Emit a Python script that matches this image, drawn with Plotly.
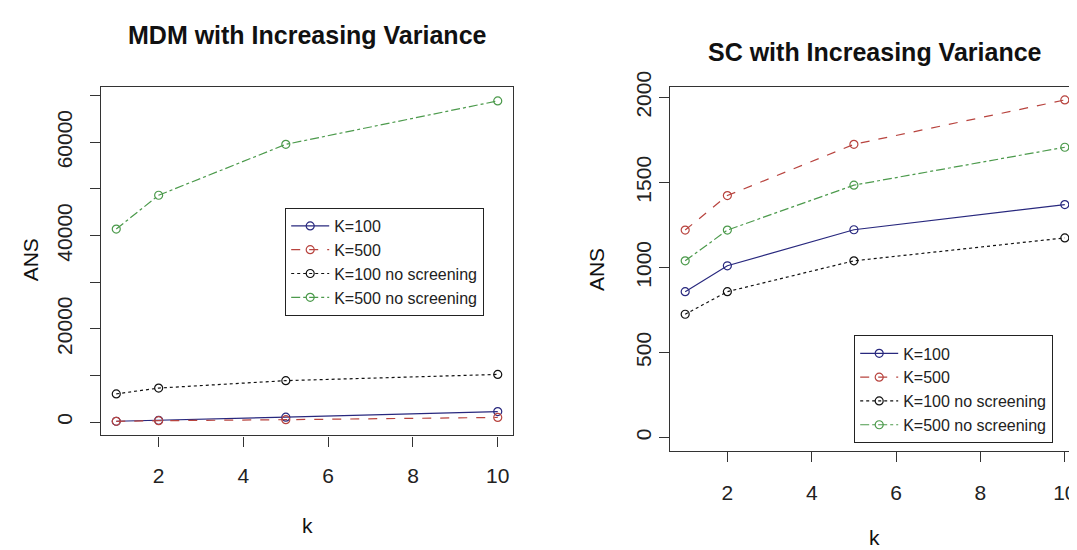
import plotly.graph_objects as go

# ---- data ----
k_vals = [1, 2, 5, 10]
series_names = ["K=100", "K=500", "K=100 no screening", "K=500 no screening"]

mdm_k100 = [180, 380, 1050, 2250]
mdm_k500 = [160, 300, 520, 1000]
mdm_k100_ns = [6050, 7300, 8890, 10220]
mdm_k500_ns = [41400, 48650, 59560, 68880]

sc_k100 = [858, 1010, 1222, 1370]
sc_k500 = [1220, 1423, 1724, 1985]
sc_k100_ns = [725, 858, 1039, 1174]
sc_k500_ns = [1039, 1220, 1484, 1707]

x_ticks = [2, 4, 6, 8, 10]
mdm_y_ticks = [0, 10000, 20000, 30000, 40000, 50000, 60000, 70000]
mdm_y_ticktext = ["0", "", "20000", "", "40000", "", "60000", ""]
sc_y_ticks = [0, 500, 1000, 1500, 2000]
sc_y_ticktext = ["0", "500", "1000", "1500", "2000"]

titles = ["MDM with Increasing Variance", "SC with Increasing Variance"]

colors = ["#28287E", "#B8443F", "#111111", "#4C9A4C"]
dashes = ["solid", "dash", "dot", "dashdot"]

FONT = "Liberation Sans, Arial, sans-serif"
W, H = 1077, 550
OFF = 8  # page body margin offset


def fx(px):
    return (px - OFF) / W


def fy(py):
    return 1 - (py - OFF) / H


fig = go.Figure()

mdm = [mdm_k100, mdm_k500, mdm_k100_ns, mdm_k500_ns]
sc = [sc_k100, sc_k500, sc_k100_ns, sc_k500_ns]

for i in range(4):
    fig.add_trace(go.Scatter(
        x=k_vals, y=mdm[i], name=series_names[i], mode="lines+markers",
        line=dict(color=colors[i], dash=dashes[i], width=1.2),
        marker=dict(symbol="circle-open", size=8, color=colors[i], line=dict(width=1.2)),
        xaxis="x", yaxis="y", legend="legend"))
for i in range(4):
    fig.add_trace(go.Scatter(
        x=k_vals, y=sc[i], name=series_names[i], mode="lines+markers",
        line=dict(color=colors[i], dash=dashes[i], width=1.2),
        marker=dict(symbol="circle-open", size=8, color=colors[i], line=dict(width=1.2)),
        xaxis="x2", yaxis="y2", legend="legend2"))

axis_common = dict(showgrid=False, zeroline=False, showline=True, linecolor="#333333",
                   linewidth=1.2, ticks="outside", ticklen=10, tickcolor="#333333",
                   tickwidth=1.2, tickfont=dict(family=FONT, size=21, color="#222222"))

legend_common = dict(xanchor="left", yanchor="top",
                     bordercolor="#222222", borderwidth=1.2, bgcolor="white",
                     font=dict(family=FONT, size=16, color="#222222"),
                     tracegroupgap=0, itemwidth=38)

fig.update_layout(
    width=W, height=H,
    margin=dict(l=0, r=0, t=0, b=0),
    paper_bgcolor="white", plot_bgcolor="white",
    font=dict(family=FONT, size=17, color="#222222"),
    xaxis=dict(domain=[fx(101), fx(513)], range=[0.64, 10.36], tickvals=x_ticks,
               mirror=True, anchor="y", ticklabelstandoff=11, **axis_common),
    yaxis=dict(domain=[fy(432), fy(74)], range=[-2860, 71820],
               tickvals=mdm_y_ticks, ticktext=mdm_y_ticktext, tickangle=-90,
               mirror=True, anchor="x", ticklabelstandoff=10, **axis_common),
    xaxis2=dict(domain=[fx(670), fx(1080)], range=[0.64, 10.36], tickvals=x_ticks,
                mirror=True, anchor="y2", ticklabelstandoff=13, **axis_common),
    yaxis2=dict(domain=[fy(448), fy(73.3)], range=[-79, 2064],
                tickvals=sc_y_ticks, ticktext=sc_y_ticktext, tickangle=-90,
                mirror=True, anchor="x2", ticklabelstandoff=0, **axis_common),
    legend=dict(x=fx(285), y=fy(198), **legend_common),
    legend2=dict(x=fx(854), y=fy(329), **legend_common),
    showlegend=True,
)

annotations = [
    dict(text="<b>" + titles[0] + "</b>", x=fx(307), y=fy(20), font=dict(size=25)),
    dict(text="<b>" + titles[1] + "</b>", x=fx(875), y=fy(38), font=dict(size=25)),
    dict(text="ANS", x=fx(30), y=fy(252), textangle=-90, font=dict(size=21)),
    dict(text="ANS", x=fx(596), y=fy(262), textangle=-90, font=dict(size=21)),
    dict(text="k", x=fx(307), y=fy(525), font=dict(size=21)),
    dict(text="k", x=fx(875), y=fy(537), font=dict(size=21)),
]
for a in annotations:
    a.update(xref="paper", yref="paper", showarrow=False, xanchor="center", yanchor="middle")
    a["font"].update(family=FONT, color="#111111")
fig.update_layout(annotations=annotations)

fig.write_html("out.html")
